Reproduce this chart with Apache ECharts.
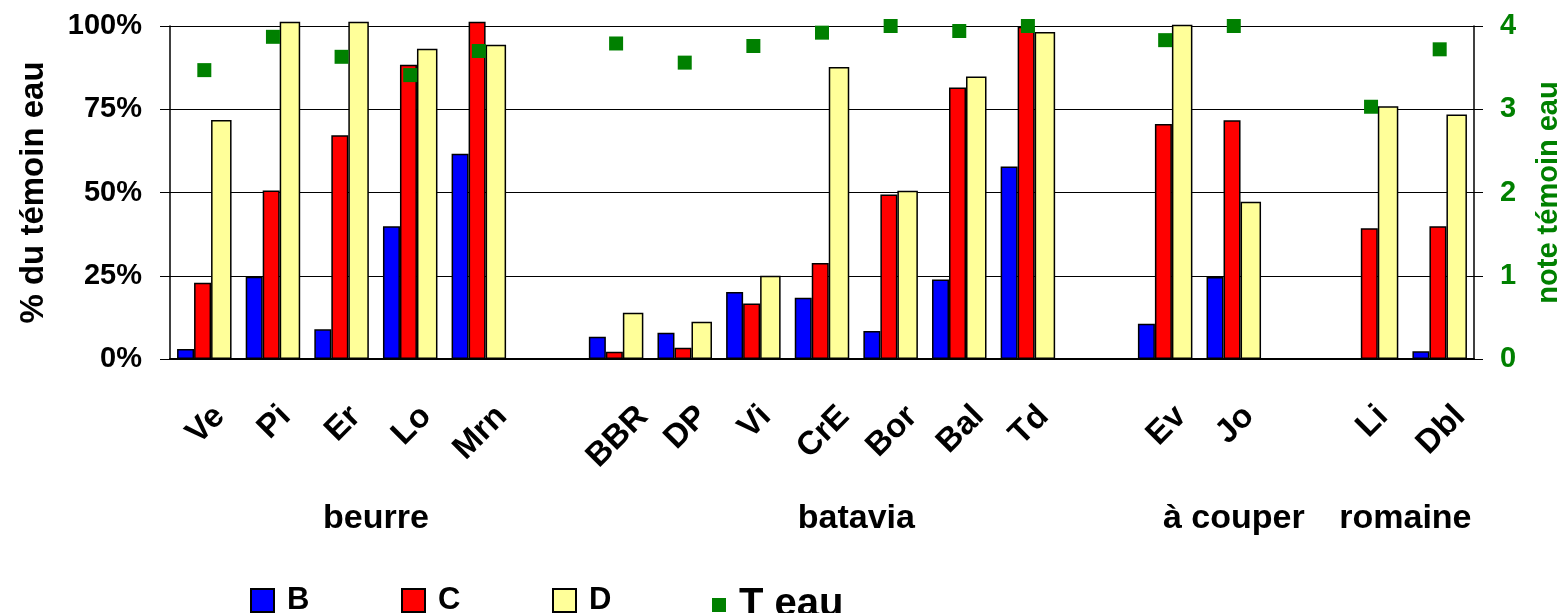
<!DOCTYPE html>
<html>
<head>
<meta charset="utf-8">
<script src="https://cdn.jsdelivr.net/npm/echarts@6/dist/echarts.min.js"></script>
<style>
  html, body { margin: 0; padding: 0; background: #fff; }
  #chart { width: 1560px; height: 613px; }
</style>
</head>
<body>
<div id="chart"></div>
<script>
// Varieties (empty entries separate the lettuce types)
const categories = ['Ve', 'Pi', 'Er', 'Lo', 'Mrn', '', 'BBR', 'DP', 'Vi', 'CrE', 'Bor', 'Bal', 'Td', '', 'Ev', 'Jo', '', 'Li', 'Dbl'];

// Lettuce types and how many slots each covers (including its trailing spacer)
const groupNames = ['beurre', 'batavia', 'à couper', 'romaine'];
const groupSizes = [6, 8, 3, 2];

// % of the water control
const valuesB = [3.0, 24.7, 8.9, 39.9, 61.6, null, 6.7, 7.9, 20.1, 18.4, 8.4, 23.9, 57.8, null, 10.6, 24.6, null, null, 2.3];
const valuesC = [22.9, 50.6, 67.2, 88.4, 101.3, null, 2.2, 3.4, 16.7, 28.8, 49.4, 81.5, 99.8, null, 70.6, 71.7, null, 39.3, 39.9];
const valuesD = [71.8, 101.3, 101.3, 93.2, 94.4, null, 13.9, 11.2, 25.0, 87.7, 50.5, 84.8, 98.2, null, 100.4, 47.2, null, 75.9, 73.4];

// Score of the water control (right axis)
const noteEau = [3.47, 3.87, 3.63, 3.41, 3.70, null, 3.79, 3.56, 3.76, 3.92, 4.0, 3.94, 4.0, null, 3.83, 4.0, null, 3.03, 3.72];

const seriesNames = ['B', 'C', 'D', 'T eau'];

const FONT = '"Liberation Sans", Arial, sans-serif';
const LABEL_SIZE = 33;

// Rotated variety labels: every label is centred on its slot and their tops are level.
// Each label box is anchored by its top edge; the line height moves the text across
// its baseline and side padding moves it along the baseline.
const AXIS_Y = 359;        // pixel row of the category axis
const LABEL_ANCHOR_Y = 400;
const LABEL_TOP_Y = 403;
const LABEL_DX = 1.5;
const measure = document.createElement('canvas').getContext('2d');
measure.font = 'bold ' + LABEL_SIZE + 'px "Liberation Sans"';
const categoryData = categories.map(c => {
  if (!c) return { value: c };
  const w = measure.measureText(c).width;
  const e = 0.354 * (w + 0.72 * LABEL_SIZE);
  const k = LABEL_TOP_Y + e - LABEL_ANCHOR_Y;
  const across = 0.707 * (LABEL_DX + k);
  const along = 0.707 * (LABEL_DX - k);
  return {
    value: c,
    textStyle: {
      align: 'center',
      verticalAlign: 'top',
      lineHeight: 2 * across,
      padding: [0, Math.max(0, -2 * along), 0, Math.max(0, 2 * along)]
    }
  };
});

// Half-slot positions for the lettuce type labels
const groupTicks = new Array(categories.length * 2 + 1).fill('');
let start = 0;
groupNames.forEach((name, i) => {
  groupTicks[2 * start + groupSizes[i]] = name;
  start += groupSizes[i];
});

const barStyle = color => ({ color: color, borderColor: '#000', borderWidth: 1.5 });

// One legend block per series, evenly spaced along the bottom
const LEGEND_LEFT = 245;
const LEGEND_STEP = 151;
const legendIcons = ['rect', 'rect', 'rect', 'path://M0,0M23,23M9,4.5h14v14h-14z'];
const legendFontSizes = [31, 31, 31, 40];
const legends = seriesNames.map((name, i) => ({
  left: LEGEND_LEFT + i * LEGEND_STEP,
  top: 580,
  itemWidth: 23,
  itemHeight: 23,
  selectedMode: false,
  textStyle: { fontSize: legendFontSizes[i], fontWeight: 'bold', color: '#000', fontFamily: FONT, padding: [0, 0, 0, 8] },
  data: [{ name: name, icon: legendIcons[i] }]
}));

const chart = echarts.init(document.getElementById('chart'), null, { renderer: 'canvas' });
chart.setOption({
  animation: false,
  backgroundColor: '#fff',
  textStyle: { fontFamily: FONT },
  grid: { left: 170, right: 86, top: 26, bottom: 613 - AXIS_Y, containLabel: false, outerBoundsMode: 'none' },
  legend: legends,
  xAxis: [
    {
      type: 'category',
      position: 'bottom',
      data: categoryData,
      axisLine: { lineStyle: { color: '#000', width: 2 } },
      axisTick: { show: false },
      axisLabel: {
        interval: 0, rotate: 45, align: 'center', verticalAlign: 'top',
        margin: LABEL_ANCHOR_Y - AXIS_Y, fontSize: LABEL_SIZE, fontWeight: 'bold', color: '#000', fontFamily: FONT
      }
    },
    {
      type: 'category',
      position: 'bottom',
      boundaryGap: false,
      data: groupTicks,
      axisLine: { show: false },
      axisTick: { show: false },
      splitLine: { show: false },
      axisLabel: {
        interval: 0, verticalAlign: 'middle', margin: 160,
        fontSize: 34, fontWeight: 'bold', color: '#000', fontFamily: FONT
      }
    }
  ],
  yAxis: [
    {
      type: 'value',
      position: 'left',
      min: 0, max: 100, interval: 25,
      name: '% du témoin eau',
      nameLocation: 'middle',
      nameRotate: 90,
      nameGap: 120,
      nameTextStyle: { fontSize: 33, fontWeight: 'bold', color: '#000', fontFamily: FONT },
      axisLine: { show: true, lineStyle: { color: '#000', width: 1.5 } },
      axisTick: { show: true, length: 10, lineStyle: { color: '#000' } },
      axisLabel: { formatter: '{value}%', margin: 28, fontSize: 29, fontWeight: 'bold', color: '#000', fontFamily: FONT },
      splitLine: { show: true, lineStyle: { color: '#000', width: 1 } }
    },
    {
      type: 'value',
      position: 'right',
      min: 0, max: 4, interval: 1,
      name: 'note témoin eau',
      nameLocation: 'middle',
      nameRotate: 90,
      nameGap: 60,
      nameTextStyle: { fontSize: 29, fontWeight: 'bold', color: '#008000', fontFamily: FONT },
      axisLine: { show: true, lineStyle: { color: '#000', width: 1.5 } },
      axisTick: { show: true, length: 9, lineStyle: { color: '#000' } },
      axisLabel: { margin: 26, fontSize: 29, fontWeight: 'bold', color: '#008000', fontFamily: FONT },
      splitLine: { show: false }
    }
  ],
  series: [
    { name: seriesNames[0], type: 'bar', data: valuesB, barWidth: 17, barGap: '0%', clip: false, itemStyle: barStyle('#0000ff') },
    { name: seriesNames[1], type: 'bar', data: valuesC, barWidth: 17, barGap: '0%', clip: false, itemStyle: barStyle('#ff0000') },
    { name: seriesNames[2], type: 'bar', data: valuesD, barWidth: 20.5, barGap: '0%', clip: false, itemStyle: barStyle('#ffff99') },
    {
      name: seriesNames[3], type: 'scatter', yAxisIndex: 1, data: noteEau,
      symbol: 'rect', symbolSize: 14, z: 5, itemStyle: { color: '#008000', opacity: 1 }
    }
  ]
});
</script>
</body>
</html>
